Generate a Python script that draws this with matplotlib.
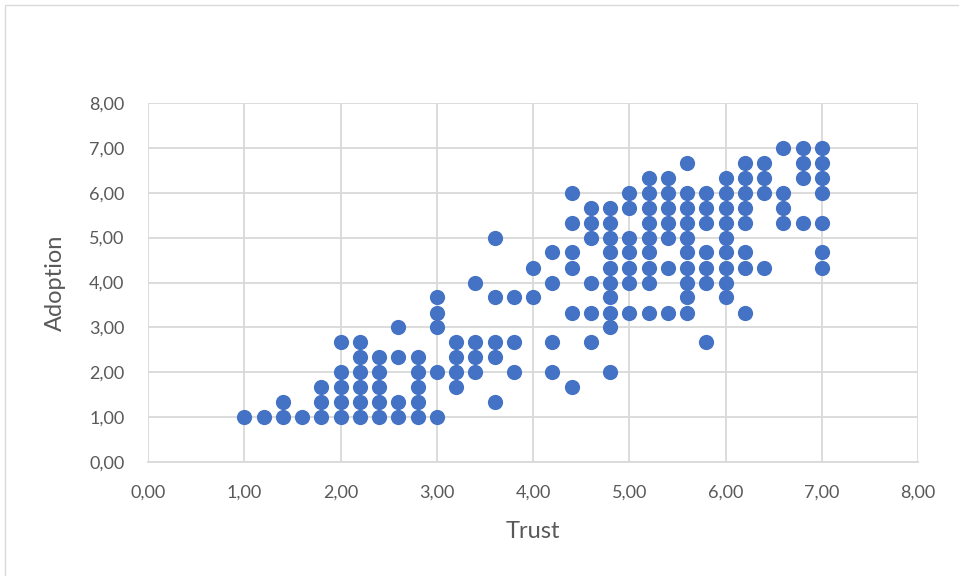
import matplotlib
matplotlib.use("Agg")
import matplotlib.pyplot as plt
from matplotlib.patches import Rectangle
from matplotlib.ticker import FuncFormatter

# Trust score of each column of points, and the Adoption scores seen in it
trust_levels = [1.0, 1.2, 1.4, 1.6, 1.8, 2.0, 2.2, 2.4, 2.6, 2.8,
                3.0, 3.2, 3.4, 3.6, 3.8, 4.0, 4.2, 4.4, 4.6, 4.8,
                5.0, 5.2, 5.4, 5.6, 5.8, 6.0, 6.2, 6.4, 6.6, 6.8, 7.0]
adoption_by_trust = [
    [1],
    [1],
    [1, 1.33],
    [1],
    [1, 1.33, 1.67],
    [1, 1.33, 1.67, 2, 2.67],
    [1, 1.33, 1.67, 2, 2.33, 2.67],
    [1, 1.33, 1.67, 2, 2.33],
    [1, 1.33, 2.33, 3],
    [1, 1.33, 1.67, 2, 2.33],
    [1, 2, 3, 3.33, 3.67],
    [1.67, 2, 2.33, 2.67],
    [2, 2.33, 2.67, 4],
    [1.33, 2.33, 2.67, 3.67, 5],
    [2, 2.67, 3.67],
    [3.67, 4.33],
    [2, 2.67, 4, 4.67],
    [1.67, 3.33, 4.33, 4.67, 5.33, 6],
    [2.67, 3.33, 4, 5, 5.33, 5.67],
    [2, 3, 3.33, 3.67, 4, 4.33, 4.67, 5, 5.33, 5.67],
    [3.33, 4, 4.33, 4.67, 5, 5.67, 6],
    [3.33, 4, 4.33, 4.67, 5, 5.33, 5.67, 6, 6.33],
    [3.33, 4.33, 5, 5.33, 5.67, 6, 6.33],
    [3.33, 3.67, 4, 4.33, 4.67, 5, 5.33, 5.67, 6, 6.67],
    [2.67, 4, 4.33, 4.67, 5.33, 5.67, 6],
    [3.67, 4, 4.33, 4.67, 5, 5.33, 5.67, 6, 6.33],
    [3.33, 4.33, 4.67, 5.33, 5.67, 6, 6.33, 6.67],
    [4.33, 6, 6.33, 6.67],
    [5.33, 5.67, 6, 7],
    [5.33, 6.33, 6.67, 7],
    [4.33, 4.67, 5.33, 6, 6.33, 6.67, 7],
]

trust = []
adoption = []
for t, ys in zip(trust_levels, adoption_by_trust):
    for y in ys:
        trust.append(t)
        adoption.append(y)

plt.rcParams['font.family'] = ['Lato', 'DejaVu Sans']
grey = '#595959'

fig = plt.figure(figsize=(9.59, 5.76), dpi=100)
# light frame round the chart
fig.patches.append(Rectangle((5 / 959, -0.01), 2, 1 - 5 / 576 + 0.01,
                             transform=fig.transFigure, fill=False,
                             edgecolor='#D9D9D9', linewidth=1))

ax = fig.add_axes([148 / 959, 1 - 462 / 576, 770 / 959, 359 / 576])
ax.scatter(trust, adoption, s=120, color='#4472C4', zorder=3, linewidths=0)

ax.set_xlim(0, 8)
ax.set_ylim(0, 8)
ax.set_xticks(range(0, 9))
ax.set_yticks(range(0, 9))
fmt = FuncFormatter(lambda v, p: f"{v:.2f}".replace('.', ','))
ax.xaxis.set_major_formatter(fmt)
ax.yaxis.set_major_formatter(fmt)
ax.grid(True, color='#D9D9D9', linewidth=1.3, zorder=0)
ax.set_axisbelow(True)
for side in ['top', 'right', 'left']:
    ax.spines[side].set_visible(False)
ax.spines['bottom'].set_color('#D9D9D9')
ax.spines['bottom'].set_linewidth(1.3)
ax.tick_params(length=0, labelsize=13, labelcolor=grey)
ax.tick_params(axis='x', pad=16)
ax.tick_params(axis='y', pad=17)

ax.set_xlabel('Trust', fontsize=17, color=grey)
ax.set_ylabel('Adoption', fontsize=17, color=grey)
ax.xaxis.set_label_coords(0.5, -0.165)
ax.yaxis.set_label_coords(-0.107, 0.5)

fig.savefig('out.png', dpi=100)
